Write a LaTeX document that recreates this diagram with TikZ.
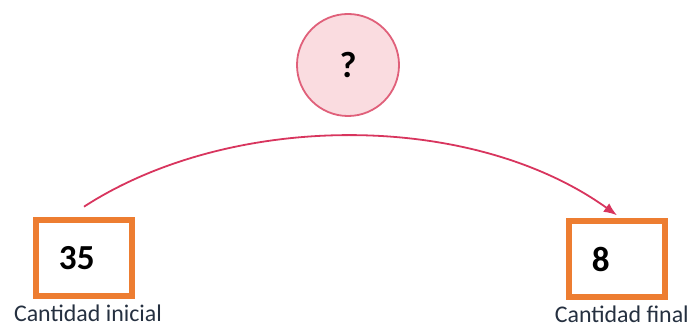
\documentclass[tikz,border=0pt]{standalone}
\usepackage{fontspec}
\setmainfont{Carlito}
\usetikzlibrary{arrows.meta,positioning}
\definecolor{orange}{HTML}{ED7D31}
\definecolor{rose}{HTML}{E0607A}
\definecolor{blush}{HTML}{FADCE0}
\definecolor{crimson}{HTML}{D8355E}
\definecolor{ink}{HTML}{253040}
\tikzset{
  qty/.style={draw=orange,line width=0.15cm,fill=white,minimum width=2.4cm,minimum height=1.875cm,inner xsep=0.575cm,text width=1.25cm,align=left,font=\fontsize{25}{28}\selectfont\bfseries},
  caption/.style={font=\fontsize{17}{19}\selectfont,text=ink,inner sep=0pt},
  unknown/.style={circle,draw=rose,line width=0.045cm,fill=blush,minimum size=2.55cm,font=\fontsize{26}{28}\selectfont\bfseries},
  flow/.style={-{Latex[length=3.3mm,width=2.6mm]},line width=0.045cm,draw=crimson}
}
\begin{document}
\begin{tikzpicture}[x=0.025cm,y=-0.025cm]
\useasboundingbox (0,0) rectangle (698,327);
\node[qty] (start) at (84,258) {35};
\node[qty] (end) at (617,259) {8};
\node[unknown] (op) at (348,65) {\raisebox{-2pt}{?}};
\node[caption,below=0.16cm of start,xshift=0.1cm] (startlbl) {Cantidad inicial};
\node[caption,below=0.16cm of end,xshift=0.12cm] (endlbl) {Cantidad final};

\draw[flow] ([yshift=0.27cm]start.north) .. controls (230,112) and (470,110) .. ([yshift=0.08cm]end.north);
\end{tikzpicture}
\end{document}
